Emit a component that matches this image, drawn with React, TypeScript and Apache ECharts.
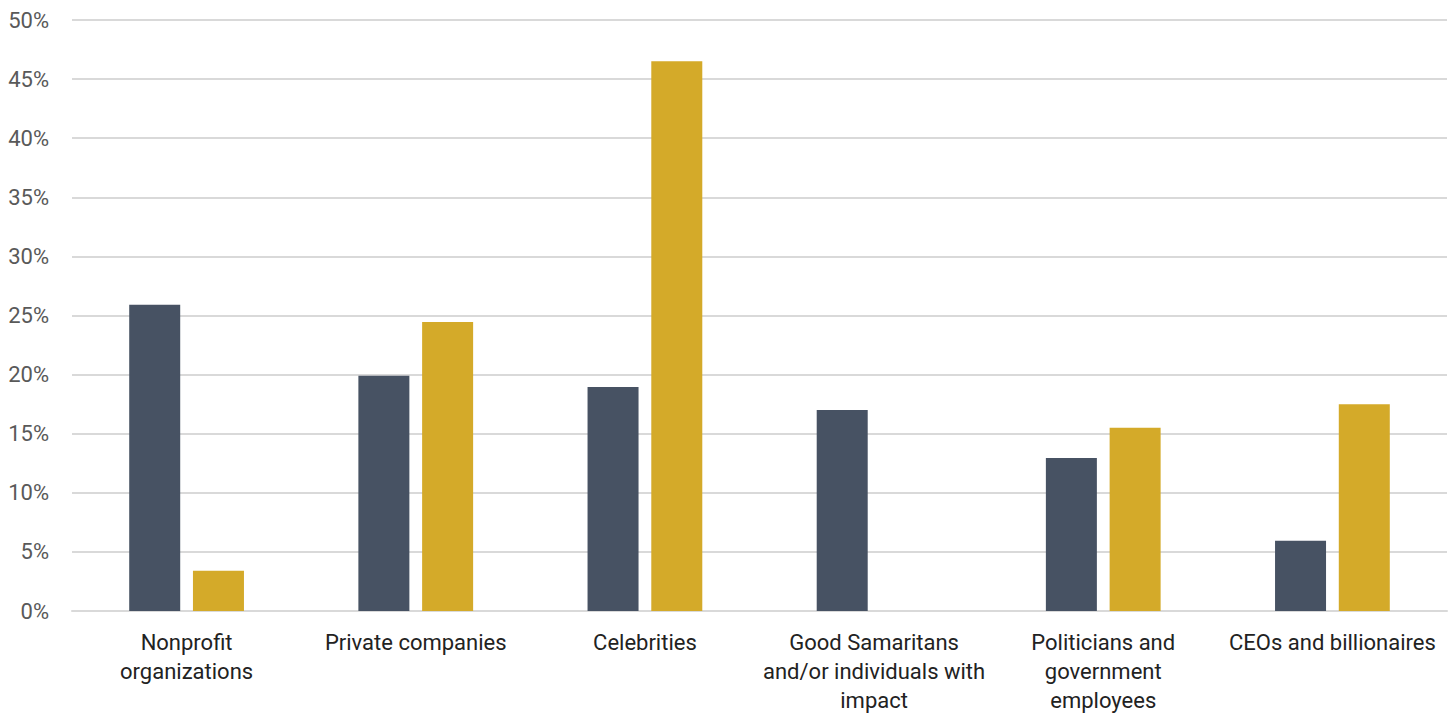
import React, { useEffect, useRef } from "react";
import * as echarts from "echarts";

const categories = [
  "Nonprofit\norganizations",
  "Private companies",
  "Celebrities",
  "Good Samaritans\nand/or individuals with\nimpact",
  "Politicians and\ngovernment\nemployees",
  "CEOs and billionaires",
];
const seriesA = [25.9, 19.9, 18.95, 17, 12.95, 5.95];
const seriesB = [3.4, 24.45, 46.5, 0, 15.5, 17.5];

export default function App() {
  const ref = useRef<HTMLDivElement>(null);
  useEffect(() => {
    document.body.style.margin = "0";
    const chart = echarts.init(ref.current!, null, { renderer: "svg" });
    chart.setOption({
      animation: false,
      grid: { left: 72, right: 9, top: 20, bottom: 106 },
      xAxis: {
        type: "category",
        data: categories,
        axisLine: { show: true, lineStyle: { color: "#d9d9d9", width: 2 } },
        axisTick: { show: false },
        axisLabel: {
          interval: 0,
          color: "#222222",
          fontFamily: "Roboto",
          fontSize: 22,
          lineHeight: 29,
          margin: 17,
          align: "center",
        },
      },
      yAxis: {
        type: "value",
        min: 0,
        max: 50,
        interval: 5,
        axisLine: { show: false },
        axisTick: { show: false },
        splitLine: { lineStyle: { color: "#d9d9d9", width: 2 } },
        axisLabel: {
          color: "#595959",
          fontFamily: "Roboto",
          fontSize: 22,
          margin: 23,
          formatter: "{value}%",
        },
      },
      series: [
        {
          type: "bar",
          data: seriesA,
          barWidth: 51,
          barGap: "25%",
          itemStyle: { color: "#475263" },
        },
        {
          type: "bar",
          data: seriesB,
          barWidth: 51,
          itemStyle: { color: "#D4AA29" },
        },
      ],
    });
    return () => chart.dispose();
  }, []);
  return <div ref={ref} style={{ width: 1456, height: 717 }} />;
}
